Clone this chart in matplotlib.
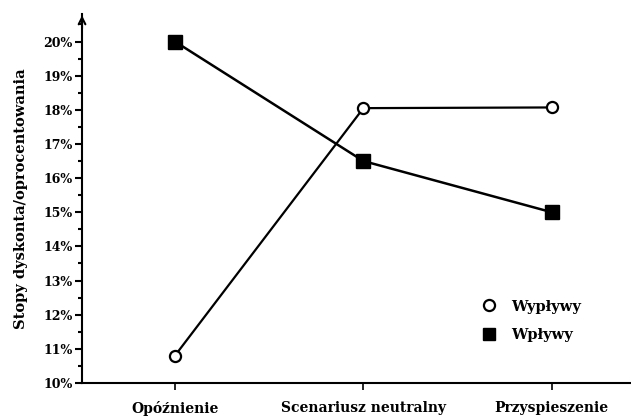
import matplotlib.pyplot as plt
from matplotlib.lines import Line2D
import numpy as np

# dane
kategorie = ['Opóźnienie', 'Scenariusz neutralny', 'Przyspieszenie']
wyplywy = [10.8, 18.05, 18.07]
wplywy = [20.0, 16.5, 15.0]
y_ticks = list(range(10, 21))
y_labels = ['%d%%' % t for t in y_ticks]

plt.rcParams['font.family'] = ['DejaVu Serif']
plt.rcParams['font.weight'] = 'bold'

fig = plt.figure(figsize=(6.31, 4.19), dpi=100)
ax = fig.add_axes([0.13, 0.086, 0.87, 0.88])

x = np.arange(len(kategorie))
ax.plot(x, wyplywy, color='black', lw=1.6, marker='o', ms=8,
        mfc='white', mec='black', mew=1.6)
ax.plot(x, wplywy, color='black', lw=1.8, marker='s', ms=9.5,
        mfc='black', mec='black')

ax.set_xlim(-0.493, 2.42)
ax.set_ylim(10, 20.8)

ax.set_yticks(y_ticks)
ax.set_yticklabels(y_labels, fontsize=9, fontweight='bold')
ax.set_yticks(np.arange(10.5, 20.6, 1.0), minor=True)
ax.tick_params(axis='y', which='major', direction='out', length=5, width=1.5, pad=2)
ax.tick_params(axis='y', which='minor', direction='out', length=3, width=1.5)

ax.set_xticks(x)
ax.set_xticklabels(kategorie, fontsize=10, fontweight='bold')
ax.tick_params(axis='x', direction='out', length=5, width=1.2, pad=8)

ax.set_ylabel('Stopy dyskonta/oprocentowania', fontsize=10.5, fontweight='bold', labelpad=11)

for s in ['top', 'right']:
    ax.spines[s].set_visible(False)
ax.spines['left'].set_linewidth(1.5)
ax.spines['bottom'].set_linewidth(1.5)

# strzałka na osi Y
ax.annotate('', xy=(-0.493, 20.85), xytext=(-0.493, 20.3),
            arrowprops=dict(arrowstyle='->', lw=1.5, color='black',
                            mutation_scale=12),
            annotation_clip=False)

uchwyty = [Line2D([], [], ls='none', marker='o', ms=8, mfc='white', mec='black', mew=1.6),
           Line2D([], [], ls='none', marker='s', ms=8, mfc='black', mec='black')]
ax.legend(uchwyty, ['Wypływy', 'Wpływy'], loc='lower left',
          bbox_to_anchor=(0.705, 0.075), frameon=False,
          prop={'size': 10.5, 'weight': 'bold'}, handlelength=1.0,
          handletextpad=1.0, labelspacing=1.0)

fig.savefig('out.png', dpi=100)
